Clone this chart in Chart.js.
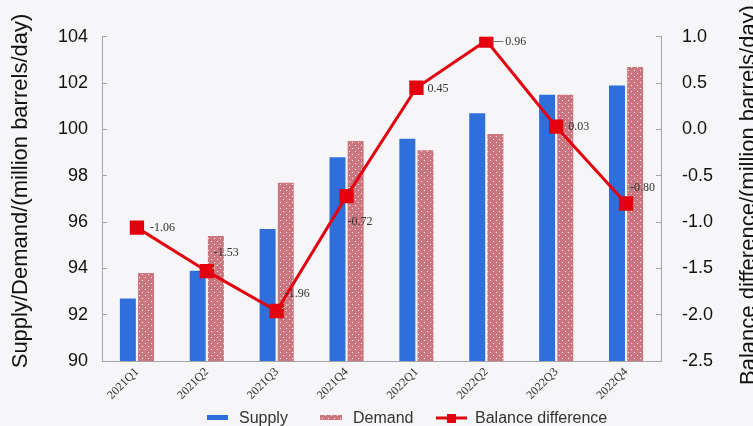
<!DOCTYPE html>
<html lang="en">
<head>
  <meta charset="UTF-8" />
  <title>Supply / Demand Balance</title>
  <script src="https://cdn.jsdelivr.net/npm/chart.js"></script>
  <style>
    html, body {
      margin: 0;
      padding: 0;
      background: #f6f6f9;
      overflow: hidden;
    }
    #wrap {
      width: 753px;
      height: 426px;
    }
  </style>
</head>
<body>
  <div id="wrap">
    <canvas id="balanceChart" width="753" height="426"></canvas>
  </div>

  <script>
    // data
    const quarters = ['2021Q1', '2021Q2', '2021Q3', '2021Q4', '2022Q1', '2022Q2', '2022Q3', '2022Q4'];
    const supply = [92.7, 93.9, 95.7, 98.8, 99.6, 100.7, 101.5, 101.9];
    const demand = [93.8, 95.4, 97.7, 99.5, 99.1, 99.8, 101.5, 102.7];
    const balance = [-1.06, -1.53, -1.96, -0.72, 0.45, 0.96, 0.03, -0.80];
    const leftTicks = [90, 92, 94, 96, 98, 100, 102, 104];
    const rightTicks = [-2.5, -2.0, -1.5, -1.0, -0.5, 0.0, 0.5, 1.0];

    // where each value label sits relative to its marker (dx, dy, leader line?)
    const labelOffsets = [
      [13, 0, false], [7, -18, true], [8, -17, true], [1, 26, false],
      [11, 1, false], [19, 1, true], [12, 0, false], [4, -16, false]
    ];

    // dotted red texture for the demand bars
    function demandPattern() {
      const c = document.createElement('canvas');
      c.width = 6; c.height = 6;
      const g = c.getContext('2d');
      g.fillStyle = '#d4838a';
      g.fillRect(0, 0, 6, 6);
      g.fillStyle = '#c46a74';
      for (let y = 0; y < 6; y++) {
        for (let x = (y % 2); x < 6; x += 2) g.fillRect(x, y, 1, 1);
      }
      g.fillStyle = '#f4e4e6';
      g.fillRect(1, 1, 1, 1);
      g.fillRect(4, 4, 1, 1);
      return g.createPattern(c, 'repeat');
    }
    const demandFill = demandPattern();

    const labelsPlugin = {
      id: 'valueLabels',
      afterDatasetsDraw(chart) {
        const ctx = chart.ctx;
        const meta = chart.getDatasetMeta(2);
        ctx.save();
        ctx.font = '12px "Liberation Serif", "Times New Roman", serif';
        ctx.textAlign = 'left';
        ctx.textBaseline = 'middle';
        meta.data.forEach((pt, i) => {
          const [dx, dy, leader] = labelOffsets[i];
          const tx = pt.x + dx, ty = pt.y + dy;
          if (leader) {
            ctx.strokeStyle = i === 5 ? '#777' : '#bbb';
            ctx.lineWidth = 1;
            ctx.beginPath();
            if (i === 5) {
              ctx.moveTo(pt.x + 6, pt.y + 1);
              ctx.lineTo(tx - 2, ty);
            } else {
              ctx.moveTo(tx + 8, ty + 8);
              ctx.lineTo(pt.x + 5, pt.y - 2);
            }
            ctx.stroke();
          }
          ctx.fillStyle = '#333';
          ctx.fillText(balance[i].toFixed(2), tx, ty);
        });
        ctx.restore();
      }
    };

    function sideTitle(ctx, text, x, y) {
      ctx.save();
      ctx.font = '22px "Liberation Sans", Arial, sans-serif';
      ctx.fillStyle = '#111';
      ctx.textAlign = 'center';
      ctx.textBaseline = 'middle';
      ctx.translate(x, y);
      ctx.rotate(-Math.PI / 2);
      ctx.fillText(text, 0, 0);
      ctx.restore();
    }

    const extrasPlugin = {
      id: 'extras',
      afterDraw(chart) {
        const ctx = chart.ctx;
        // axis titles, both reading bottom to top; the right one is cut by the edge
        sideTitle(ctx, 'Supply/Demand/(million barrels/day)', 21, 191);
        sideTitle(ctx, 'Balance difference/(million barrels/day)', 749, 195);

        // legend
        ctx.save();
        const ly = 418;
        ctx.font = '16px "Liberation Sans", Arial, sans-serif';
        ctx.textBaseline = 'middle';
        ctx.textAlign = 'left';
        ctx.fillStyle = '#2f6fdc';
        ctx.fillRect(207, ly - 3, 21, 5);
        ctx.fillStyle = '#333';
        ctx.fillText('Supply', 239, ly + 1);
        ctx.fillStyle = demandFill;
        ctx.fillRect(320, ly - 3, 22, 5);
        ctx.fillStyle = '#333';
        ctx.fillText('Demand', 353, ly + 1);
        ctx.strokeStyle = '#e3000f';
        ctx.lineWidth = 3;
        ctx.beginPath();
        ctx.moveTo(436, ly);
        ctx.lineTo(467, ly);
        ctx.stroke();
        ctx.fillStyle = '#e3000f';
        ctx.fillRect(447, ly - 4, 9, 9);
        ctx.fillStyle = '#333';
        ctx.fillText('Balance difference', 475, ly + 1);
        ctx.restore();
      }
    };

    const axisGray = '#a3a3a8';
    const ctx = document.getElementById('balanceChart').getContext('2d');
    new Chart(ctx, {
      type: 'bar',
      data: {
        labels: quarters,
        datasets: [
          {
            label: 'Supply',
            data: supply,
            backgroundColor: '#2f6fdc',
            yAxisID: 'y',
            order: 2,
            categoryPercentage: 0.52,
            barPercentage: 0.88
          },
          {
            label: 'Demand',
            data: demand,
            backgroundColor: demandFill,
            yAxisID: 'y',
            order: 2,
            categoryPercentage: 0.52,
            barPercentage: 0.88
          },
          {
            type: 'line',
            label: 'Balance difference',
            data: balance,
            yAxisID: 'y1',
            order: 0,
            borderColor: '#e3000f',
            backgroundColor: '#e3000f',
            borderWidth: 3,
            pointStyle: 'rect',
            pointRadius: 8,
            pointHoverRadius: 8,
            tension: 0
          }
        ]
      },
      options: {
        responsive: false,
        animation: false,
        layout: { padding: { top: 31, left: 0, right: 0, bottom: 0 } },
        plugins: {
          legend: { display: false },
          tooltip: { enabled: false }
        },
        scales: {
          x: {
            offset: true,
            grid: { display: false, drawTicks: false },
            border: { color: axisGray, width: 1 },
            ticks: {
              autoSkip: false,
              maxRotation: 45,
              minRotation: 45,
              padding: 4,
              color: '#333',
              font: { family: '"Liberation Serif", "Times New Roman", serif', size: 12 }
            },
            afterFit(scale) { scale.height = 65; }
          },
          y: {
            position: 'left',
            min: 90,
            max: 104,
            afterBuildTicks(scale) { scale.ticks = leftTicks.map(v => ({ value: v })); },
            grid: { drawOnChartArea: false, tickLength: -5, color: axisGray },
            border: { color: axisGray, width: 1 },
            ticks: {
              padding: 19,
              color: '#111',
              font: { family: '"Liberation Sans", Arial, sans-serif', size: 18 }
            },
            afterFit(scale) { scale.width = 102; }
          },
          y1: {
            position: 'right',
            min: -2.5,
            max: 1.0,
            afterBuildTicks(scale) { scale.ticks = rightTicks.map(v => ({ value: v })); },
            grid: { drawOnChartArea: false, tickLength: -5, color: axisGray },
            border: { color: axisGray, width: 1 },
            ticks: {
              padding: 26,
              color: '#111',
              font: { family: '"Liberation Sans", Arial, sans-serif', size: 18 },
              callback: v => Number(v).toFixed(1)
            },
            afterFit(scale) { scale.width = 92; }
          }
        }
      },
      plugins: [labelsPlugin, extrasPlugin]
    });
  </script>
</body>
</html>
